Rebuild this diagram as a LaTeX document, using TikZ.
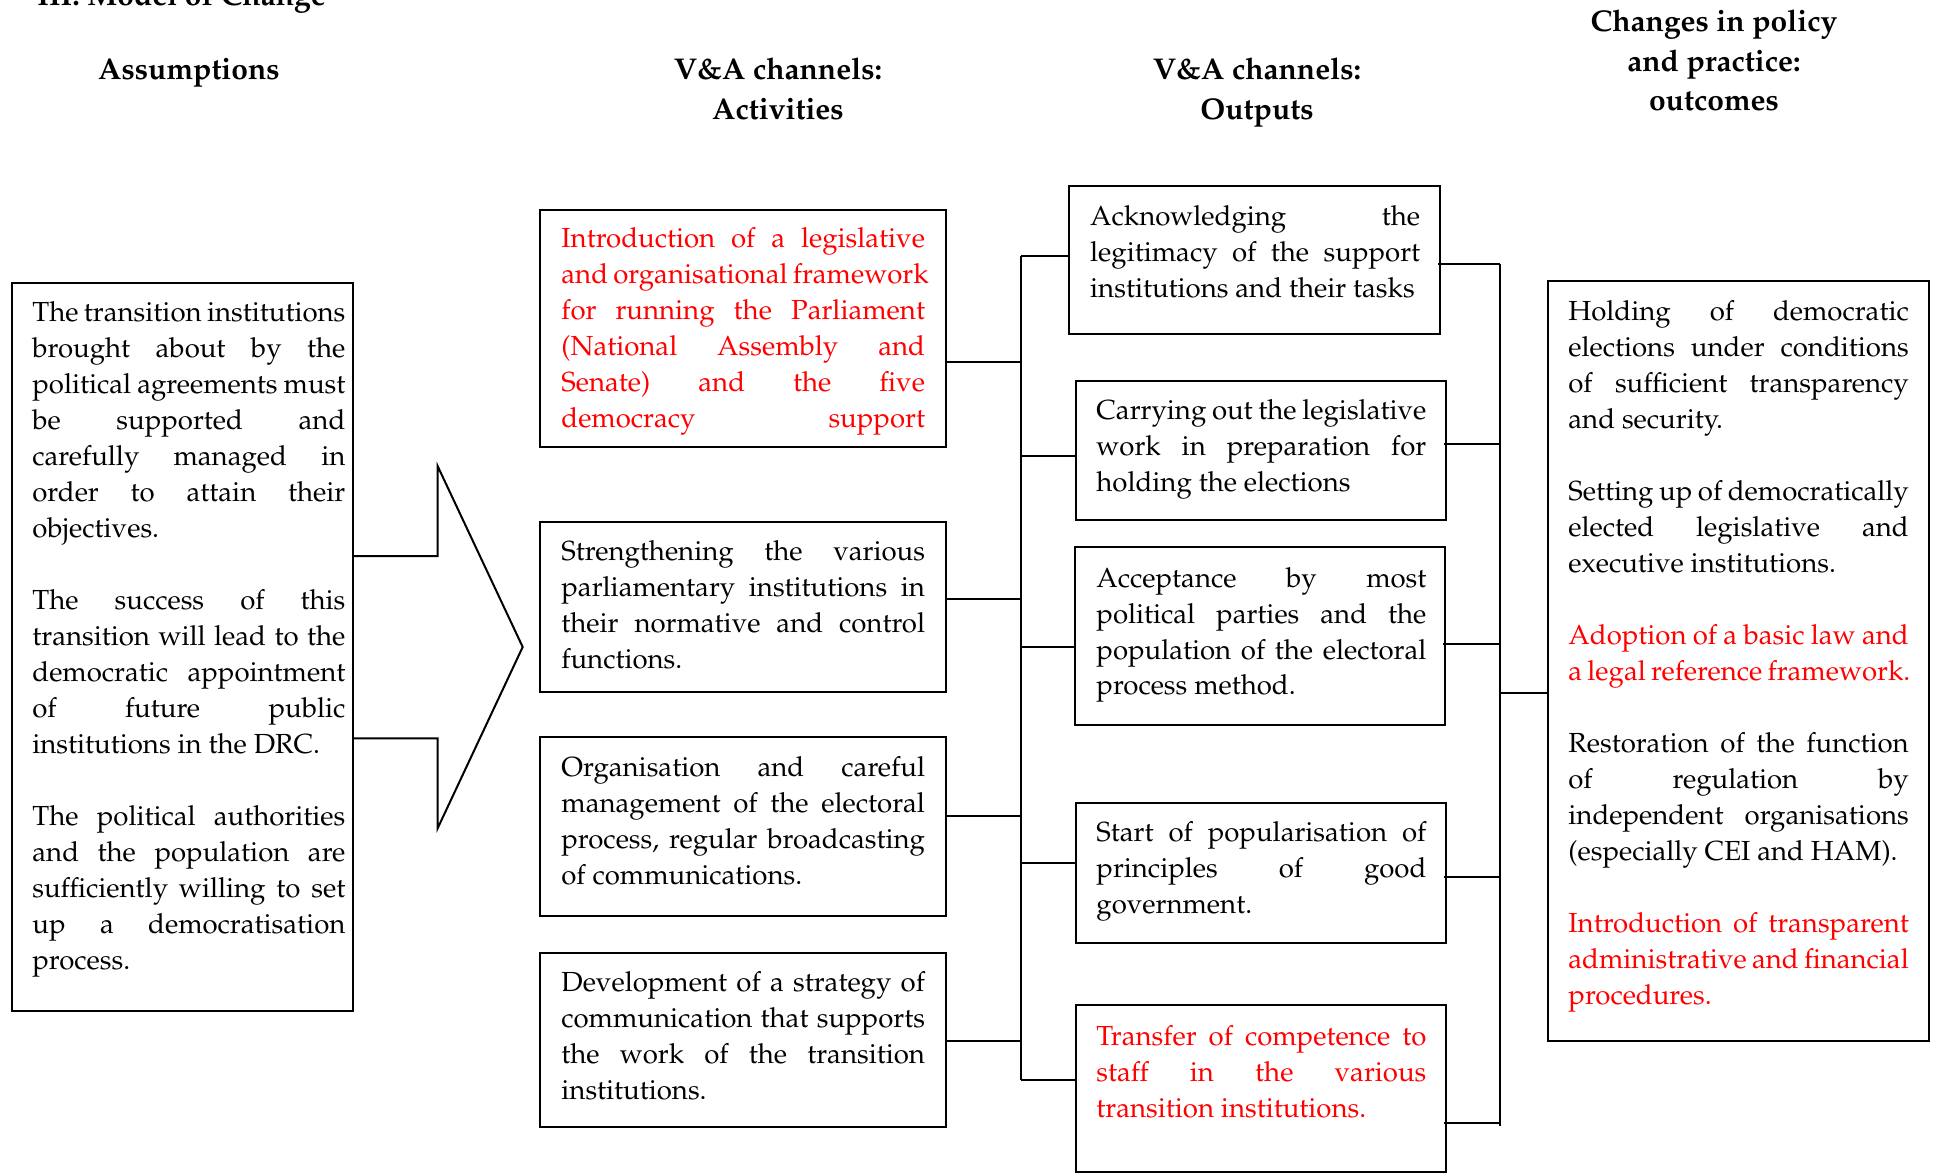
\documentclass[tikz,border=0pt]{standalone}
\usepackage[T1]{fontenc}
\usepackage{mathpazo}
\usetikzlibrary{fit}

% no hyphenation anywhere: every line break is given explicitly
\hyphenpenalty=10000
\exhyphenpenalty=10000

\tikzset{
  box/.style={draw, line width=1pt, inner sep=0pt},
  body/.style={inner sep=0pt, anchor=base west, font=\fontsize{13.8}{18}\selectfont},
  head/.style={inner sep=0pt, font=\bfseries\fontsize{15}{19.75}\selectfont},
  link/.style={line width=1pt},
}
\newcommand{\brk}{\linebreak}
\newcommand{\gap}{\par\vspace{18pt}}

\begin{document}
\begin{tikzpicture}[x=0.5pt, y=-0.5pt]
\useasboundingbox (0,0) rectangle (1933,1176);

% ---------- headings ----------
\node[head, anchor=base west] (title) at (37,6) {III. Model of Change};
\node[head, anchor=base] (hAs) at (189,80) {Assumptions};
\node[head, anchor=base] (hAc) at (778,80) {\parbox[t]{200pt}{\centering V\&A channels:\\Activities}};
\node[head, anchor=base] (hOu) at (1257,80) {\parbox[t]{200pt}{\centering V\&A channels:\\Outputs}};
\node[head, anchor=base] (hOc) at (1714,32) {\parbox[t]{200pt}{\centering Changes in policy\\and practice:\\outcomes}};

% ---------- assumptions ----------
\node[box, fit={(12.3,283.5) (352.6,1010.9)}] (AS) {};
\node[body] (ASt) at (32,322) {\parbox[t]{156.5pt}{%
The~transition~institutions\brk brought about by the\brk political~agreements~must\brk be supported and\brk carefully managed in\brk order to attain their\brk objectives.\gap
The success of this\brk transition~will~lead~to~the\brk democratic~appointment\brk of future public\brk institutions~in~the~DRC.\gap
The~political~authorities\brk and the population are\brk sufficiently~willing~to~set\brk up a democratisation\brk process.}};

% block arrow leaving the assumptions box
\draw[link] (AS.east |- 0,556) -- (437.6,556) -- (437.6,466) -- (522.7,647)
  -- (437.6,828.4) -- (437.6,738.4) -- (AS.east |- 0,738.4);

% ---------- activities ----------
\node[box, fit={(540,209.6) (945.6,447.5)}] (A1) {};
\node[body, text=red] (A1t) at (561,248) {\parbox[t]{181.8pt}{%
Introduction~of~a~legislative\brk and~organisational~framework\brk for~running~the~Parliament\brk (National Assembly and\brk Senate) and the five\brk democracy\hfill support}};

\node[box, fit={(540,521.5) (945.6,691.6)}] (A2) {};
\node[body] (A2t) at (561,560) {\parbox[t]{181.8pt}{%
Strengthening the various\brk parliamentary~institutions~in\brk their~normative~and~control\brk functions.}};

\node[box, fit={(540,737.2) (945.6,916)}] (A3) {};
\node[body] (A3t) at (561,776) {\parbox[t]{181.8pt}{%
Organisation and careful\brk management~of~the~electoral\brk process,~regular~broadcasting\brk of communications.}};

\node[box, fit={(540,953) (945.6,1126.8)}] (A4) {};
\node[body] (A4t) at (561,991.5) {\parbox[t]{181.8pt}{%
Development~of~a~strategy~of\brk communication~that~supports\brk the work of the transition\brk institutions.}};

% ---------- outputs ----------
\node[box, fit={(1068.8,186.2) (1440,334.1)}] (O1) {};
\node[body] (O1t) at (1089.8,226) {\parbox[t]{165pt}{%
Acknowledging the\brk legitimacy~of~the~support\brk institutions~and~their~tasks}};

\node[box, fit={(1076.2,381) (1446,520.2)}] (O2) {};
\node[body] (O2t) at (1096,419.5) {\parbox[t]{165pt}{%
Carrying~out~the~legislative\brk work in preparation for\brk holding the elections}};

\node[box, fit={(1075,547.4) (1444.9,724.9)}] (O3) {};
\node[body] (O3t) at (1096,587) {\parbox[t]{165pt}{%
Acceptance by most\brk political~parties~and~the\brk population~of~the~electoral\brk process method.}};

\node[box, fit={(1076.2,802.6) (1446,943.1)}] (O4) {};
\node[body] (O4t) at (1096,841) {\parbox[t]{165pt}{%
Start~of~popularisation~of\brk principles of good\brk government.}};

\node[box, fit={(1076.2,1004.7) (1446,1172.4)}] (O5) {};
\node[body, text=red] (O5t) at (1096,1045) {\parbox[t]{165pt}{%
Transfer~of~competence~to\brk staff in the various\brk transition~institutions.}};

% ---------- outcomes ----------
\node[box, fit={(1548.4,281.1) (1929.3,1040.5)}] (OC) {};
\node[body] (OCt) at (1568,321) {\parbox[t]{170.2pt}{%
Holding of democratic\brk elections~under~conditions\brk of sufficient transparency\brk and security.\gap
Setting~up~of~democratically\brk elected legislative and\brk executive~institutions.\gap
{\color{red}Adoption~of~a~basic~law~and\brk a~legal~reference~framework.}\gap
Restoration~of~the~function\brk of regulation by\brk independent organisations\brk (especially~CEI~and~HAM).\gap
{\color{red}Introduction~of~transparent\brk administrative~and~financial\brk procedures.}}};

% ---------- connectors: activities -> outputs ----------
\coordinate (busL) at (1020.8,0);
\coordinate (a1c) at (0,362.4);
\coordinate (a2c) at (0,599.2);
\coordinate (a3c) at (0,816);
\coordinate (a4c) at (0,1040.5);
\coordinate (o1l) at (0,256.4);
\coordinate (o2l) at (0,456.1);
\coordinate (o3l) at (0,647.2);
\coordinate (o4l) at (0,863);
\coordinate (o5l) at (0,1080);

\draw[link] (busL |- o1l) -- (busL |- o5l);
\foreach \c/\n in {a1c/A1, a2c/A2, a3c/A3, a4c/A4}
  \draw[link] (\n.east |- \c) -- (busL |- \c);
\foreach \c/\n in {o1l/O1, o2l/O2, o3l/O3, o4l/O4, o5l/O5}
  \draw[link] (busL |- \c) -- (\n.west |- \c);

% ---------- connectors: outputs -> outcomes ----------
\coordinate (busR) at (1500.3,0);
\coordinate (o1r) at (0,263.8);
\coordinate (o2r) at (0,443.8);
\coordinate (o3r) at (0,643.5);
\coordinate (o4r) at (0,876.5);
\coordinate (o5r) at (0,1123.1);
\coordinate (ocl) at (0,692.8);

\draw[link] (busR |- o1r) -- ([yshift=-1.5pt]busR |- o5r);
\foreach \c/\n in {o1r/O1, o2r/O2, o3r/O3, o4r/O4, o5r/O5}
  \draw[link] ([xshift=-1.5pt]\n.east |- \c) -- (busR |- \c);
\draw[link] (busR |- ocl) -- (OC.west |- ocl);

\end{tikzpicture}
\end{document}
